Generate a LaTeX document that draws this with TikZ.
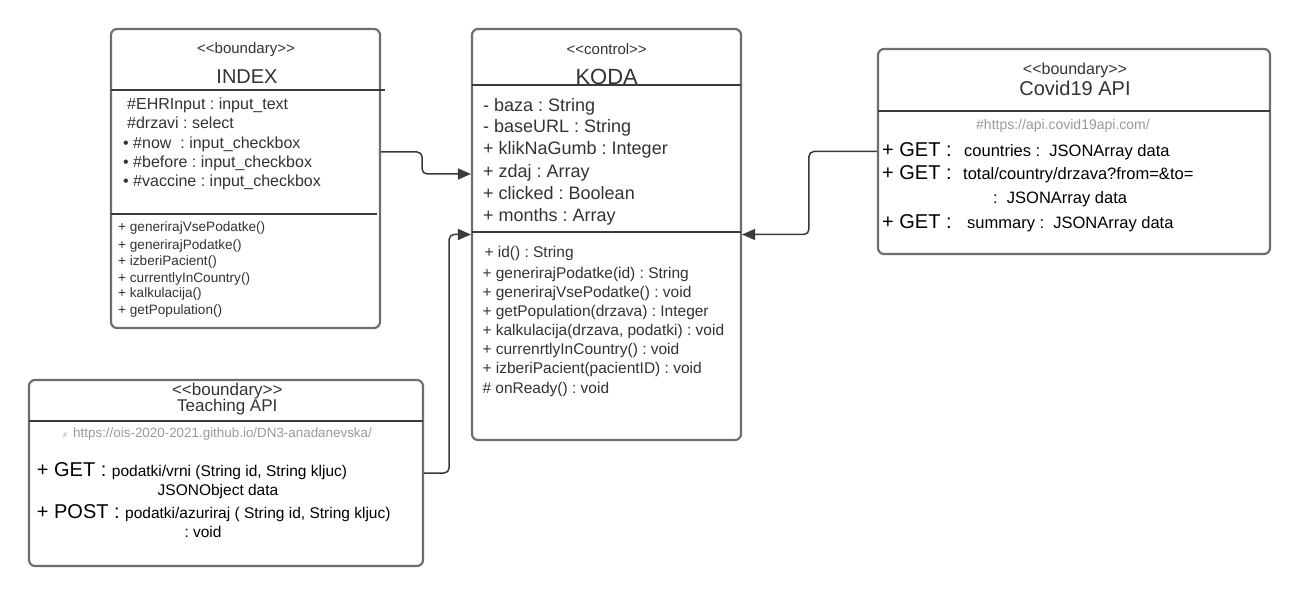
\documentclass[tikz,border=0pt]{standalone}
\usepackage{fontspec}
\setmainfont{Liberation Sans}
\usetikzlibrary{arrows.meta}
\definecolor{boxgray}{HTML}{6E6E6E}
\definecolor{linedark}{HTML}{3A3A3A}
\definecolor{txt}{HTML}{333333}
\definecolor{urlgray}{HTML}{9A9A9A}
\newcommand\myfs[1]{\fontsize{#1}{#1}\selectfont}
\frenchspacing
\begin{document}
\frenchspacing
\begin{tikzpicture}[x=1pt,y=-1pt,
 umlbox/.style={draw=boxgray, line width=2.2pt, rounded corners=6pt, inner sep=0pt, fill=white},
 sep/.style={draw=linedark, line width=1.6pt},
 lt/.style={anchor=base west, inner sep=0pt, text=txt},
 ct/.style={anchor=base, inner sep=0pt, text=txt},
 conn/.style={draw=linedark, line width=1.5pt, rounded corners=5pt, -{Triangle[length=13pt,width=11pt]}},
]
\fill[white] (0,0) rectangle (1302,612);
\useasboundingbox (0,0) rectangle (1302,612);

% ---------- boxes ----------
\node[umlbox, minimum width=269pt, minimum height=299pt] (index) at (245.5,178.5) {};
\node[umlbox, minimum width=269pt, minimum height=411pt] (koda) at (606.5,234.5) {};
\node[umlbox, minimum width=392pt, minimum height=205pt] (covid) at (1074,151.5) {};
\node[umlbox, minimum width=394pt, minimum height=186pt] (teach) at (226,473) {};

% ---------- separators ----------
\draw[sep] (111,90) -- (385,90);
\draw[sep] (111,214) -- (377,214);
\draw[sep] (472,85) -- (741,85);
\draw[sep] (472,232) -- (741,232);
\draw[sep] (878,111) -- (1270,111);
\draw[sep] (29,421) -- (423,421);

% ---------- INDEX ----------
\node[ct] (iS) at (246,53.4) {\myfs{15}<{}<boundary>{}>};
\node[ct] (iT) at (247,83.2) {\myfs{20}INDEX};
\node[lt] (ia1) at (127,109.8) {\myfs{16}\#EHRInput : input\_text};
\node[lt] (ia2) at (127,128.5) {\myfs{16}\#drzavi : select};
\node[lt] (ia3) at (123,148.5) {\myfs{16}• \#now\ \ : input\_checkbox};
\node[lt] (ia4) at (123,167.5) {\myfs{16}• \#before : input\_checkbox};
\node[lt] (ia5) at (123,186.8) {\myfs{16}• \#vaccine : input\_checkbox};
\node[lt] (im1) at (118,231.7) {\myfs{13.6}+ generirajVsePodatke()};
\node[lt] (im2) at (118,249.3) {\myfs{13.6}+ generirajPodatke()};
\node[lt] (im3) at (118,266) {\myfs{13.6}+ izberiPacient()};
\node[lt] (im4) at (118,282.3) {\myfs{13.6}+ currentlyInCountry()};
\node[lt] (im5) at (118,297.7) {\myfs{13.6}+ kalkulacija()};
\node[lt] (im6) at (118,315) {\myfs{13.6}+ getPopulation()};

% ---------- KODA ----------
\node[ct] (kS) at (606.7,54.4) {\myfs{15}<{}<control>{}>};
\node[ct] (kT) at (606.7,84.6) {\myfs{22}KODA};
\node[lt] (ka1) at (483,111.5) {\myfs{18}- baza : String};
\node[lt] (ka2) at (483,132.5) {\myfs{18}- baseURL : String};
\node[lt] (ka3) at (483,154.8) {\myfs{18}+ klikNaGumb : Integer};
\node[lt] (ka4) at (483,177.2) {\myfs{18}+ zdaj : Array};
\node[lt] (ka5) at (483,199.2) {\myfs{18}+ clicked : Boolean};
\node[lt] (ka6) at (483,221.5) {\myfs{18}+ months : Array};
\node[lt] (km1) at (484.3,257.7) {\myfs{15.5}+ id() : String};
\node[lt] (km2) at (482.3,278.7) {\myfs{15.5}+ generirajPodatke(id) : String};
\node[lt] (km3) at (482.3,297.1) {\myfs{15.5}+ generirajVsePodatke() : void};
\node[lt] (km4) at (482.3,316.1) {\myfs{15.5}+ getPopulation(drzava) : Integer};
\node[lt] (km5) at (482.3,335.4) {\myfs{15.5}+ kalkulacija(drzava, podatki) : void};
\node[lt] (km6) at (482.3,354.4) {\myfs{15.5}+ currenrtlyInCountry() : void};
\node[lt] (km7) at (482.3,373.7) {\myfs{15.5}+ izberiPacient(pacientID) : void};
\node[lt] (km8) at (482.3,393.7) {\myfs{15.5}\# onReady() : void};

% ---------- Covid19 API ----------
\node[ct] (cS) at (1075,74.8) {\myfs{16}<{}<boundary>{}>};
\node[ct] (cT) at (1075,95.5) {\myfs{20}Covid19 API};
\node[lt, text=urlgray] (cU) at (976,130) {\myfs{14}\#https://api.covid19api.com/};
\node[lt, text=black] (cg1) at (882,157) {\myfs{20}+ GET :};
\node[lt, text=black] (cg1t) at (964,157) {\myfs{16.5}countries :\ \ JSONArray data};
\node[lt, text=black] (cg2) at (882,179.3) {\myfs{20}+ GET :};
\node[lt, text=black] (cg2t) at (963,179.3) {\myfs{16.5}total/country/drzava?from=\&to=};
\node[lt, text=black] (cg2c) at (993,203.7) {\myfs{16.5}:\ \ JSONArray data};
\node[lt, text=black] (cg3) at (882,228.7) {\myfs{20}+ GET :};
\node[lt, text=black] (cg3t) at (967,228.7) {\myfs{16.5}summary :\ \ JSONArray data};

% ---------- Teaching API ----------
\node[ct] (tS) at (227.3,395.3) {\myfs{17}<{}<boundary>{}>};
\node[ct] (tT) at (227.3,411.2) {\myfs{17}Teaching API};
\node[lt, text=urlgray] (tH) at (63,437) {\myfs{7}\#};
\node[lt, text=urlgray] (tU) at (73,438) {\myfs{13.4}https://ois-2020-2021.github.io/DN3-anadanevska/};
\node[lt, text=black] (tg) at (36.7,476) {\myfs{20}+ GET :};
\node[lt, text=black] (tgt) at (111.7,476) {\myfs{15.5}podatki/vrni (String id, String kljuc)};
\node[ct, text=black] (tgc) at (218,495.5) {\myfs{15.5}JSONObject data};
\node[lt, text=black] (tp) at (36.7,518.5) {\myfs{20}+ POST :};
\node[lt, text=black] (tpt) at (125,518.5) {\myfs{15.5}podatki/azuriraj ( String id, String kljuc)};
\node[lt, text=black] (tpc) at (184.3,537) {\myfs{15.5}: void};

% ---------- connectors ----------
\draw[conn] ([yshift=26.5pt]index.east) -- ++(41,0) |- ([yshift=60.5pt]koda.west);
\draw[conn] (teach.east) -- ++(25,0) |- (koda.west);
\draw[conn] (covid.west) -- ++(-68,0) |- (koda.east);
\end{tikzpicture}
\end{document}
